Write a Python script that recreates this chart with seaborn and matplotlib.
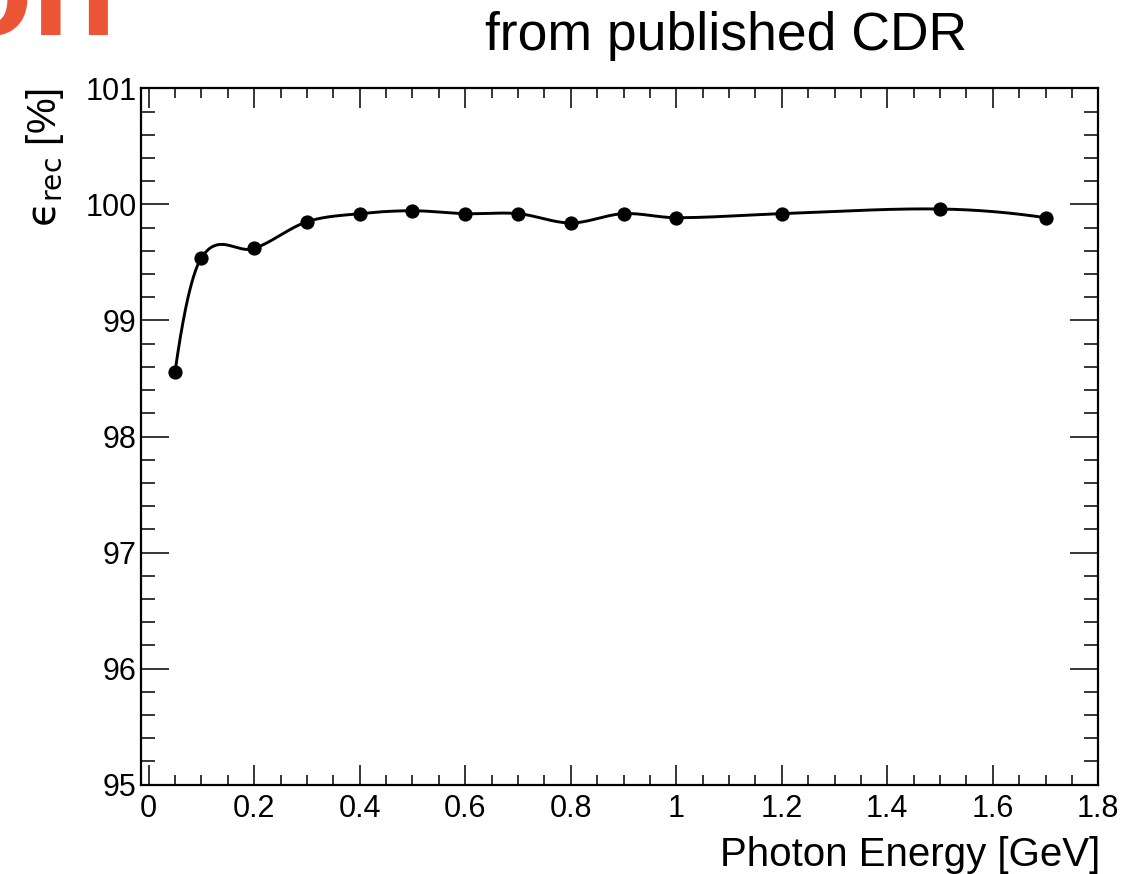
import numpy as np
import pandas as pd
import matplotlib
matplotlib.use("Agg")
import matplotlib.pyplot as plt
from matplotlib.ticker import MultipleLocator, FixedLocator
import seaborn as sns

# ---- data ----
energy = [0.05, 0.1, 0.2, 0.3, 0.4, 0.5, 0.6, 0.7, 0.8, 0.9, 1.0, 1.2, 1.5, 1.7]
eff = [98.56, 99.54, 99.62, 99.85, 99.92, 99.945, 99.92, 99.92, 99.84, 99.92, 99.885, 99.92, 99.96, 99.885]
x_ticks = [0, 0.2, 0.4, 0.6, 0.8, 1.0, 1.2, 1.4, 1.6, 1.8]
x_tick_labels = ["0", "0.2", "0.4", "0.6", "0.8", "1", "1.2", "1.4", "1.6", "1.8"]
y_ticks = [95, 96, 97, 98, 99, 100, 101]
y_tick_labels = ["95", "96", "97", "98", "99", "100", "101"]
title_text = "from published CDR"
corner_text = "on"
x_label = "Photon Energy [GeV]"
y_label = r"$\mathrm{ϵ}_{\mathrm{rec}}$ [%]"

df = pd.DataFrame({"energy": energy, "eff": eff})


def smooth_curve(x, y, n_per=40):
    """Local cubic Hermite curve through the points (like ROOT's 'C' option)."""
    x = np.asarray(x, float)
    y = np.asarray(y, float)
    n = len(x)
    sec = np.diff(y) / np.diff(x)
    m = np.zeros(n)
    for i in range(1, n - 1):
        m[i] = (y[i + 1] - y[i - 1]) / (x[i + 1] - x[i - 1])
    m[0] = 2 * sec[0] - m[1]
    m[-1] = 2 * sec[-1] - m[-2]
    xs, ys = [], []
    for i in range(n - 1):
        h = x[i + 1] - x[i]
        t = np.linspace(0, 1, n_per, endpoint=(i == n - 2))
        h00 = 2 * t**3 - 3 * t**2 + 1
        h10 = t**3 - 2 * t**2 + t
        h01 = -2 * t**3 + 3 * t**2
        h11 = t**3 - t**2
        xs.append(x[i] + t * h)
        ys.append(h00 * y[i] + h10 * h * m[i] + h01 * y[i + 1] + h11 * h * m[i + 1])
    return np.concatenate(xs), np.concatenate(ys)


sx, sy = smooth_curve(df["energy"], df["eff"])
curve = pd.DataFrame({"energy": sx, "eff": sy})

sns.set_theme(style="ticks")
plt.rcParams["font.family"] = ["Liberation Sans", "DejaVu Sans"]
plt.rcParams["mathtext.fontset"] = "custom"
plt.rcParams["mathtext.rm"] = "DejaVu Sans"
plt.rcParams["mathtext.it"] = "DejaVu Sans:italic"
plt.rcParams["text.color"] = "black"
plt.rcParams["axes.labelcolor"] = "black"

W, H = 1146, 874
fig = plt.figure(figsize=(W / 100, H / 100), dpi=100)
fig.patch.set_facecolor("white")
L, R, B, T = 141, 1098.3, 784.7, 88.3
ax = fig.add_axes([L / W, 1 - B / H, (R - L) / W, (B - T) / H])

sns.lineplot(data=curve, x="energy", y="eff", ax=ax, color="black", lw=2.1,
             sort=False, estimator=None)
sns.scatterplot(data=df, x="energy", y="eff", ax=ax, color="black", s=105,
                edgecolor="black", linewidth=0, zorder=5)

ax.set_xlim(-0.0146, 1.8)
ax.set_ylim(95, 101)
ax.xaxis.set_major_locator(FixedLocator(x_ticks))
ax.set_xticklabels(x_tick_labels)
ax.xaxis.set_minor_locator(MultipleLocator(0.05))
ax.yaxis.set_major_locator(FixedLocator(y_ticks))
ax.set_yticklabels(y_tick_labels)
ax.yaxis.set_minor_locator(MultipleLocator(0.2))

ax.tick_params(axis="both", which="both", direction="in", top=True, right=True,
               colors="black", width=1.1)
ax.tick_params(axis="x", which="major", length=14.4, pad=7, labelsize=22)
ax.tick_params(axis="x", which="minor", length=7.2)
ax.tick_params(axis="y", which="major", length=20, pad=3, labelsize=22)
ax.tick_params(axis="y", which="minor", length=10)
for s in ax.spines.values():
    s.set_visible(True)
    s.set_linewidth(1.6)
    s.set_color("black")
ax.grid(False)

ax.set_xlabel(x_label, fontsize=29, loc="right", color="black")
ax.xaxis.set_label_coords(1.002, -0.074)
ax.set_ylabel(y_label, fontsize=29, loc="top", color="black")
ax.yaxis.set_label_coords(-0.078, 1.0)

fig.text(485 / W, 1 - 50 / H, title_text, fontsize=38.5, ha="left", va="baseline",
         color="black")
fig.text(117 / W, 1 - 35 / H, corner_text, fontsize=100, fontweight="bold",
         ha="right", va="baseline", color="#EB5434")

fig.savefig("out.png", dpi=100)
